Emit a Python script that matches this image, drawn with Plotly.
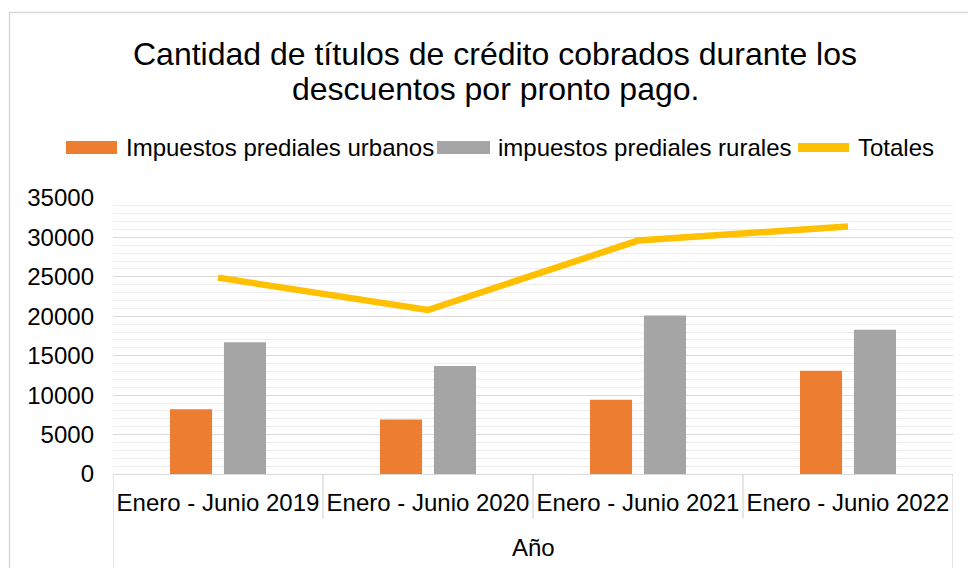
import plotly.graph_objects as go

# data
periodos = ["Enero - Junio 2019", "Enero - Junio 2020", "Enero - Junio 2021", "Enero - Junio 2022"]
urbanos = [8200, 6900, 9400, 13100]
rurales = [16700, 13700, 20100, 18300]
totales = [24900, 20800, 29600, 31400]
titulo = ["Cantidad de títulos de crédito cobrados durante los", "descuentos por pronto pago."]

W, H = 968, 568
ML, MR, MT, MB = 113, 15, 198, 94
FONT = "Liberation Sans, Arial, sans-serif"
GRID = "#D9D9D9"

# helpers to place legend / border / title in pixels
pw = W - ML - MR
ph = H - MT - MB


def px_x(x):
    return (x - ML) / pw


def px_y(y):
    return (H - MB - y) / ph


fig = go.Figure()
fig.add_trace(go.Bar(x=periodos, y=urbanos, name="Impuestos prediales urbanos",
                     marker=dict(color="#ED7D31", line=dict(width=0))))
fig.add_trace(go.Bar(x=periodos, y=rurales, name="impuestos prediales rurales",
                     marker=dict(color="#A5A5A5", line=dict(width=0))))
fig.add_trace(go.Scatter(x=periodos, y=totales, name="Totales", mode="lines",
                         line=dict(color="#FFC000", width=6.5)))

shapes = []
annotations = []

# title, two lines
for line, yc in zip(titulo, [54, 89]):
    annotations.append(dict(text=line, xref="paper", yref="paper", x=px_x(495), y=px_y(yc),
                            xanchor="center", yanchor="middle", showarrow=False,
                            font=dict(size=32, color="#000", family=FONT)))

# legend drawn by hand so the swatches look like the Excel ones
legend = [
    ("Impuestos prediales urbanos", "#ED7D31", 66, 117, 141, 154, 124),
    ("impuestos prediales rurales", "#A5A5A5", 437, 490, 141, 154, 496),
    ("Totales", "#FFC000", 798, 849, 143, 152, 856),
]
for name, col, x0, x1, y0, y1, tx in legend:
    shapes.append(dict(type="rect", xref="paper", yref="paper",
                       x0=px_x(x0), x1=px_x(x1), y0=px_y(y1), y1=px_y(y0),
                       fillcolor=col, line=dict(width=0), layer="above"))
    annotations.append(dict(text=name, xref="paper", yref="paper",
                            x=px_x(tx), y=px_y(147.5), xanchor="left", yanchor="middle",
                            showarrow=False, font=dict(size=24, color="#000", family=FONT)))

# category separators below the axis (outer ones run to the bottom)
n = len(periodos)
for i in range(n + 1):
    edge = i in (0, n)
    shapes.append(dict(type="line", xref="x", yref="paper", x0=i - 0.5, x1=i - 0.5,
                       y0=0, y1=px_y(600 if edge else 518),
                       line=dict(color=GRID, width=1.3)))

# axis title "Año"
annotations.append(dict(text="Año", xref="paper", yref="paper", x=0.5, y=px_y(547),
                        xanchor="center", yanchor="middle", showarrow=False,
                        font=dict(size=24, color="#000", family=FONT)))

# chart border
shapes.append(dict(type="rect", xref="paper", yref="paper",
                   x0=px_x(9.5), x1=px_x(1000), y0=px_y(600), y1=px_y(12.5),
                   line=dict(color=GRID, width=1.5), fillcolor="rgba(0,0,0,0)"))

fig.update_layout(
    width=W, height=H,
    margin=dict(l=ML, r=MR, t=MT, b=MB),
    paper_bgcolor="white", plot_bgcolor="white",
    font=dict(family=FONT, color="#000", size=24),
    barmode="group", bargap=0.486, bargroupgap=0.22,
    showlegend=False,
    shapes=shapes, annotations=annotations,
)
fig.update_yaxes(range=[0, 35000], dtick=5000, tickformat="d",
                 showgrid=True, gridcolor=GRID, gridwidth=1.3,
                 minor=dict(dtick=1000, showgrid=True, gridcolor="#EDEDED", gridwidth=1.3),
                 zeroline=False, showline=False, ticks="",
                 ticklabelstandoff=18, tickfont=dict(size=24, color="#000"))
fig.update_xaxes(type="category", range=[-0.5, n - 0.5], showline=True, linecolor=GRID,
                 linewidth=1.3, ticks="", ticklabelstandoff=7,
                 tickfont=dict(size=24, color="#000"))

fig.write_html("out.html", config={"displayModeBar": False},
               post_script="document.body.style.margin='0';")
